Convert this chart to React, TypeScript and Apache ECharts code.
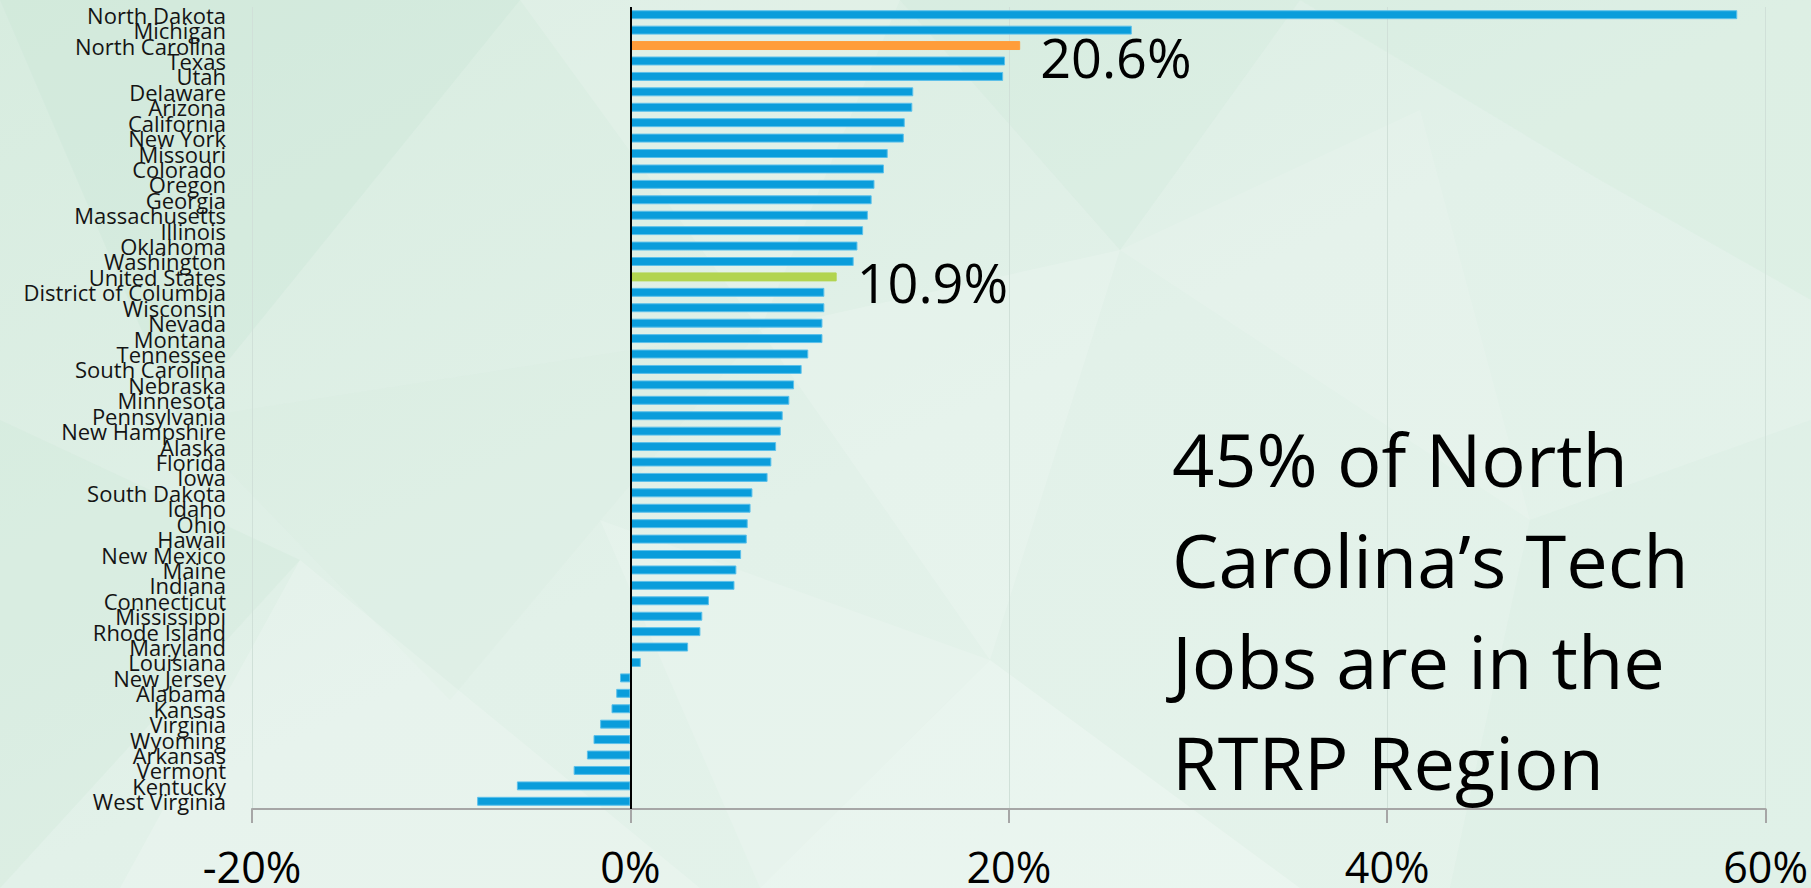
import React, { useEffect, useRef } from "react";
import * as echarts from "echarts";

const categories: string[] = [
  "North Dakota", "Michigan", "North Carolina", "Texas", "Utah", "Delaware", "Arizona",
  "California", "New York", "Missouri", "Colorado", "Oregon", "Georgia", "Massachusetts",
  "Illinois", "Oklahoma", "Washington", "United States", "District of Columbia", "Wisconsin",
  "Nevada", "Montana", "Tennessee", "South Carolina", "Nebraska", "Minnesota", "Pennsylvania",
  "New Hampshire", "Alaska", "Florida", "Iowa", "South Dakota", "Idaho", "Ohio", "Hawaii",
  "New Mexico", "Maine", "Indiana", "Connecticut", "Mississippi", "Rhode Island", "Maryland",
  "Louisiana", "New Jersey", "Alabama", "Kansas", "Virginia", "Wyoming", "Arkansas", "Vermont",
  "Kentucky", "West Virginia",
];

const growthValues: number[] = [
  58.5, 26.5, 20.6, 19.8, 19.7, 14.95, 14.9, 14.5, 14.45, 13.6, 13.4, 12.9, 12.75, 12.55,
  12.3, 12.0, 11.8, 10.9, 10.25, 10.25, 10.15, 10.15, 9.4, 9.05, 8.65, 8.4, 8.05, 7.95, 7.7,
  7.45, 7.25, 6.45, 6.35, 6.2, 6.15, 5.85, 5.6, 5.5, 4.15, 3.8, 3.7, 3.05, 0.55, -0.55, -0.75,
  -1.0, -1.6, -1.95, -2.3, -3.0, -6.0, -8.1,
];

const highlighted: { name: string; color: string; labelOffsetY: number }[] = [
  { name: "North Carolina", color: "#FF9D3A", labelOffsetY: 11 },
  { name: "United States", color: "#B2D450", labelOffsetY: 5 },
];

const xTicks = { min: -20, max: 60, interval: 20 };

const annotationLines: string[] = [
  "45% of North",
  "Carolina\u2019s Tech",
  "Jobs are in the",
  "RTRP Region",
];

const BAR_BLUE = "#0A9DDB";
const FONT = "'Open Sans', 'Noto Sans', sans-serif";

// decorative low-poly background shards
const shards: { pts: number[][]; fill: string }[] = [
  { pts: [[0, 0], [520, 0], [180, 420]], fill: "rgba(200,228,212,0.30)" },
  { pts: [[520, 0], [900, 0], [760, 330]], fill: "rgba(255,255,255,0.14)" },
  { pts: [[900, 0], [1300, 0], [1120, 250]], fill: "rgba(205,230,215,0.25)" },
  { pts: [[1300, 0], [1811, 0], [1811, 300], [1600, 180]], fill: "rgba(210,234,220,0.30)" },
  { pts: [[1120, 250], [1420, 110], [1530, 520]], fill: "rgba(255,255,255,0.12)" },
  { pts: [[760, 330], [1120, 250], [990, 660]], fill: "rgba(255,255,255,0.16)" },
  { pts: [[0, 420], [300, 560], [0, 888]], fill: "rgba(205,232,216,0.30)" },
  { pts: [[180, 420], [760, 330], [450, 700]], fill: "rgba(215,236,224,0.25)" },
  { pts: [[300, 560], [700, 888], [120, 888]], fill: "rgba(255,255,255,0.18)" },
  { pts: [[990, 660], [1300, 888], [760, 888]], fill: "rgba(255,255,255,0.24)" },
  { pts: [[1530, 520], [1811, 420], [1811, 888], [1450, 888]], fill: "rgba(212,235,222,0.25)" },
  { pts: [[600, 520], [990, 660], [760, 888]], fill: "rgba(255,255,255,0.14)" },
];

export default function App() {
  const ref = useRef<HTMLDivElement | null>(null);

  useEffect(() => {
    document.body.style.margin = "0";
    if (!ref.current) return;
    const chart = echarts.init(ref.current, null, { renderer: "svg" });

    const seriesData = categories.map((name, i) => {
      const h = highlighted.find((x) => x.name === name);
      if (!h) return { value: growthValues[i] };
      return {
        value: growthValues[i],
        itemStyle: { color: h.color, borderColor: h.color },
        label: {
          show: true,
          position: "right",
          distance: 20,
          offset: [0, h.labelOffsetY],
          formatter: (p: any) => `${Number(p.value).toFixed(1)}%`,
          fontSize: 54,
          fontFamily: FONT,
          color: "#000",
        },
      };
    });

    const graphics: any[] = [
      {
        type: "rect",
        z: -100,
        silent: true,
        shape: { x: 0, y: 0, width: 1811, height: 888 },
        style: {
          fill: new echarts.graphic.LinearGradient(0, 0, 1, 1, [
            { offset: 0, color: "#d7ecdf" },
            { offset: 0.5, color: "#e2f1e9" },
            { offset: 1, color: "#e5f3eb" },
          ]),
        },
      },
      ...shards.map((s) => ({
        type: "polygon",
        z: -99,
        silent: true,
        shape: { points: s.pts },
        style: { fill: s.fill },
      })),
      ...annotationLines.map((t, i) => ({
        type: "text",
        z: 10,
        x: 1172,
        y: 458 + i * 101,
        style: {
          text: t,
          fontSize: 74,
          fontFamily: FONT,
          fill: "#000",
          verticalAlign: "middle",
          align: "left",
        },
      })),
    ];

    chart.setOption({
      animation: false,
      backgroundColor: "#e0f0e7",
      graphic: graphics,
      grid: { left: 252, right: 45, top: 7, bottom: 78.5, containLabel: false },
      xAxis: {
        type: "value",
        min: xTicks.min,
        max: xTicks.max,
        interval: xTicks.interval,
        axisLine: { show: true, onZero: false, lineStyle: { color: "#a6a6a6", width: 2 } },
        axisTick: { show: true, length: 14, lineStyle: { color: "#a6a6a6", width: 2 } },
        splitLine: { show: true, lineStyle: { color: "#d0e0d8", width: 1 } },
        axisLabel: {
          formatter: "{value}%",
          fontSize: 43,
          lineHeight: 44,
          fontFamily: FONT,
          color: "#000",
          margin: 35,
        },
      },
      yAxis: {
        type: "category",
        data: categories,
        inverse: true,
        axisLine: { show: false },
        axisTick: { show: false },
        splitLine: { show: false },
        axisLabel: {
          interval: 0,
          fontSize: 22,
          fontFamily: FONT,
          color: "#141414",
          margin: 26,
        },
      },
      series: [
        {
          type: "bar",
          data: seriesData,
          barWidth: "58%",
          itemStyle: { color: BAR_BLUE, borderColor: "#5cc0ea", borderWidth: 1 },
          markLine: {
            silent: true,
            symbol: ["none", "none"],
            label: { show: false },
            lineStyle: { color: "#000", width: 2, type: "solid" },
            data: [{ xAxis: 0 }],
          },
        },
      ],
    });

    return () => chart.dispose();
  }, []);

  return <div ref={ref} style={{ width: 1811, height: 888 }} />;
}
